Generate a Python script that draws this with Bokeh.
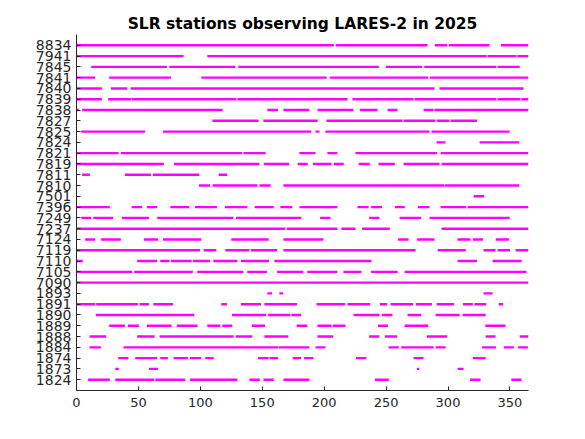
from bokeh.plotting import figure
from bokeh.models import Range1d, FixedTicker, ColumnDataSource
from bokeh.embed import file_html
from bokeh.resources import INLINE

# Stations, top to bottom
stations = ["8834", "7941", "7845", "7841", "7840", "7839", "7838", "7827",
            "7825", "7824", "7821", "7819", "7811", "7810", "7501", "7396",
            "7249", "7237", "7124", "7119", "7110", "7105", "7090", "1893",
            "1891", "1890", "1889", "1888", "1884", "1874", "1873", "1824"]

# Observation intervals (day of year, start/end)
st_8834 = [(0, 207.8), (209.4, 283.5), (289.4, 299.4), (300.7, 333.6), (342.8, 365)]
st_7941 = [(0, 86.5), (105.6, 331.2), (332, 355.2), (356, 365)]
st_7845 = [(11.9, 73), (74.9, 128.3), (130.7, 244.1), (249.8, 279.2), (280.8, 339.1), (340, 357.9)]
st_7841 = [(0, 15.1), (26.4, 76.3), (100.8, 202.1), (204.5, 284), (285.1, 365)]
st_7840 = [(0, 20.5), (27.8, 41), (43.7, 289.1), (293.1, 361)]
st_7839 = [(0, 20.5), (25.6, 44.2), (44.7, 129.1), (129.9, 218.8), (222.8, 272.2),
           (273, 339.1), (340, 358.6), (359.4, 365)]
st_7838 = [(0, 1.9), (4.6, 118), (154.1, 162.8), (167.1, 188.1), (194.6, 223.7),
           (228.8, 243.1), (251.2, 259.3), (280.3, 288.4), (289.2, 365)]
st_7827 = [(109.7, 147.1), (150.9, 194.8), (201.8, 263.3), (264.1, 289.9), (291, 301.2), (302, 323.4)]
st_7825 = [(3.8, 55.5), (69.8, 189.7), (193, 196.2), (201, 285.1), (286.7, 349.8)]
st_7824 = [(290.7, 298), (325.5, 357.7)]
st_7821 = [(0, 34), (35.8, 133.7), (134.7, 152.8), (180, 193), (202.6, 210.7), (225.3, 291.3), (294, 365)]
st_7819 = [(0, 70.6), (78.7, 147.7), (151.2, 171.7), (178.6, 186.7), (191, 205.9), (207.8, 215.8),
           (227.9, 236.8), (243.9, 257.1), (264.1, 293.2), (294.8, 365)]
st_7811 = [(4.6, 10.8), (39.1, 60.1), (61.7, 99.2), (114.8, 121.8)]
st_7810 = [(98.9, 107.8), (109.9, 146.1), (147.7, 156.8), (167.1, 296.9), (297.4, 357.7)]
st_7501 = [(320.7, 329.3)]
st_7396 = [(0, 26.9), (44.5, 53.1), (56.9, 65.2), (75.7, 91.1), (95.7, 113.4), (119.9, 138),
           (143.9, 159.3), (164.6, 174.3), (180, 210.7), (226.9, 235.9), (237.9, 246.8),
           (257.1, 265.1), (275.6, 285.1), (294, 314.7), (315.8, 365)]
st_7249 = [(3.8, 11.9), (13.5, 29.6), (36.6, 58.5), (65.2, 126.7), (128.8, 181.6), (196.7, 205.1),
           (236.3, 244.6), (260.9, 278.4), (285.1, 349.8)]
st_7237 = [(0, 168.7), (169.8, 210.7), (213.9, 225.3), (230.6, 253), (294.8, 365)]
st_7124 = [(7, 15.1), (19.9, 35.8), (54.4, 65.8), (69.8, 100.8), (125, 155.2), (167.1, 199.4),
           (259.7, 268.2), (275.1, 289.1), (307.7, 318.2), (320.1, 328.2), (338.6, 349.2)]
st_7119 = [(0, 99.7), (102.7, 112.9), (120.2, 139.6), (140.9, 162), (167.1, 273.8), (291.7, 314.3),
           (328.7, 338.4), (340, 350.1), (354.6, 365)]
st_7110 = [(0, 5.1), (49, 65.2), (67.6, 75.2), (76.3, 93), (94, 107.8), (110.5, 129.9), (132.8, 155.5),
           (159.8, 238.2), (307.7, 323.4), (336, 359.4)]
st_7105 = [(0, 45), (46.6, 94), (97.5, 134.7), (137.9, 153.9), (162, 183.2), (186.4, 210.7),
           (215.5, 230.1), (237.9, 259.3), (265, 363.3)]
st_7090 = [(0, 365)]
st_1893 = [(154.1, 157.9), (163.8, 166.8), (328.7, 336)]
st_1891 = [(0, 15.1), (15.9, 49.6), (50.9, 58.5), (62, 77.9), (116.9, 121.5), (132.8, 149),
           (151.7, 178.1), (193.8, 217), (218.9, 237.2), (245, 250.9), (253.6, 271.9), (274.1, 287),
           (290.8, 304.8), (312.1, 320.1), (321.4, 330.8), (341, 344.5)]
st_1890 = [(15.6, 95.1), (125.6, 153.1), (154.7, 172.7), (173.5, 181.4), (223.7, 244.7),
           (246.6, 255.2), (267.3, 278.4), (290, 309.4), (311.8, 330.4)]
st_1889 = [(26.4, 39.1), (41.5, 50.4), (56.9, 76.8), (81.1, 97.8), (105.6, 116.1), (117.8, 125.8),
           (141.5, 152.3), (177.8, 186.4), (194.6, 206), (207, 217.2), (243.4, 251.5), (265, 284.1),
           (330.1, 346.5)]
st_1888 = [(10.5, 24), (49, 63.1), (67.1, 126.9), (128.5, 142), (151.7, 171.1), (194.6, 207.3),
           (236.3, 244.6), (249, 259), (282.9, 299.3), (330.4, 338.4), (358, 365)]
st_1884 = [(10.5, 19.7), (38, 162.8), (163.3, 188.1), (193, 201), (252, 260.3), (262.2, 288.4),
           (290, 298.1), (327.4, 338.7), (345.1, 353.2), (356.4, 364.5)]
st_1874 = [(33.7, 42), (47.4, 65.2), (67.6, 73.8), (78.4, 90), (91.6, 100.8), (104, 110.8),
           (146.6, 155.2), (155.8, 162.8), (174.6, 181.4), (183.8, 191.3), (225.6, 234.1),
           (272.2, 280.3), (320.1, 330.4)]
st_1873 = [(31.3, 34.2), (58.5, 65.8), (274.9, 276.8), (307.7, 312.6)]
st_1824 = [(9.4, 26.9), (31.3, 62.8), (63.6, 87.8), (91.6, 129.9), (139.6, 148), (150.9, 159.3),
           (167.1, 188.1), (241, 252.2), (317.7, 326.3), (351.1, 359.4)]

x_ticks = [0, 50, 100, 150, 200, 250, 300, 350]

intervals = [globals()["st_" + s] for s in stations]
n = len(stations)

x0, x1, yy = [], [], []
for i, ivs in enumerate(intervals):
    y = n - i
    for a, b in ivs:
        x0.append(a)
        x1.append(b)
        yy.append(y)
src = ColumnDataSource(dict(x0=x0, x1=x1, y=yy))

FONT = "DejaVu Sans"
TXT = "#262626"

p = figure(width=569, height=423, output_backend="svg", toolbar_location=None,
           x_range=Range1d(0, 365), y_range=Range1d(0, n + 1),
           min_border_left=76, min_border_right=41, min_border_top=34, min_border_bottom=33)
p.segment(x0="x0", y0="y", x1="x1", y1="y", source=src, line_color="#ff00ff",
          line_width=2.4, line_cap="butt")

p.title.text = "SLR stations observing LARES-2 in 2025"
p.title.align = "center"
p.title.text_font = FONT
p.title.text_font_size = "15.5px"
p.title.text_font_style = "bold"
p.title.text_color = "#000000"
p.title.standoff = 4

p.xgrid.visible = False
p.ygrid.visible = False
p.outline_line_color = None

p.xaxis.ticker = FixedTicker(ticks=x_ticks)
p.yaxis.ticker = FixedTicker(ticks=list(range(1, n + 1)))
p.yaxis.major_label_overrides = {n - i: s for i, s in enumerate(stations)}

for ax in (p.xaxis[0], p.yaxis[0]):
    ax.axis_line_color = TXT
    ax.major_tick_line_color = TXT
    ax.major_tick_in = 4
    ax.major_tick_out = 0
    ax.minor_tick_line_color = None
    ax.major_label_text_font = FONT
    ax.major_label_text_color = TXT
p.xaxis.major_label_text_font_size = "13px"
p.yaxis.major_label_text_font_size = "14px"
p.xaxis.major_label_standoff = 7
p.yaxis.major_label_standoff = 5

open("out.html", "w").write(file_html(p, INLINE))
